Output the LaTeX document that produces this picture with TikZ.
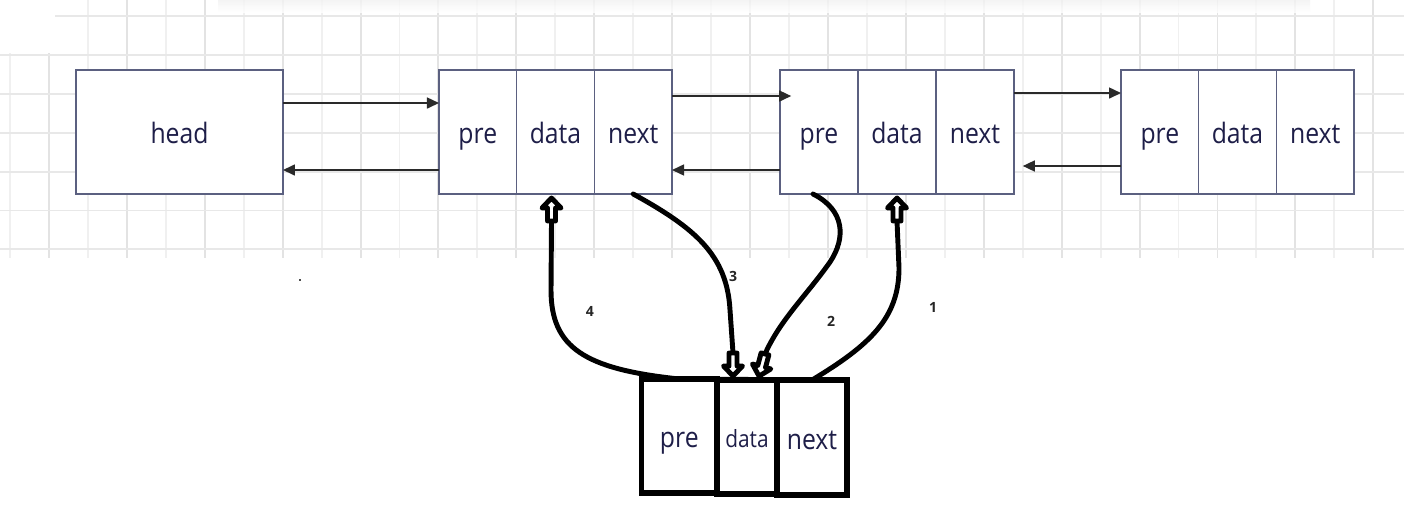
\documentclass[tikz,border=0pt]{standalone}
\usepackage{fontspec}
\setmainfont{Open Sans}
\newfontfamily\cellfont[FakeStretch=0.88]{Open Sans}
\usetikzlibrary{arrows.meta}

\definecolor{boxline}{HTML}{5B6080}
\definecolor{txt}{HTML}{1E1E48}
\definecolor{link}{HTML}{2A2A2A}

\begin{document}
\begin{tikzpicture}[x=0.02cm,y=-0.02cm,
  cell/.style={draw=boxline, line width=0.9pt, fill=white,
    minimum width=1.553cm, minimum height=2.48cm,
    inner sep=0pt, outer sep=0pt, text=txt,
    text height=14pt, text depth=0.4pt,
    font=\cellfont\fontsize{16}{18}\selectfont},
  newcell/.style={draw=black, line width=2.9pt, fill=white,
    minimum height=2.28cm, inner sep=0pt, outer sep=0pt, text=txt,
    text height=14pt, text depth=0.4pt,
    font=\cellfont\fontsize{16}{18}\selectfont},
  link/.style={draw=link, line width=0.9pt,
    -{Triangle[length=0.24cm,width=0.22cm]}},
  curvelink/.style={draw=black, line width=2.8pt, line cap=round},
  num/.style={font=\bfseries\fontsize{8}{9}\selectfont, text=black!85, inner sep=0pt},
  blk/.pic={\draw[black, line width=2.8pt, fill=white, line join=round]
    (0,4) -- (9.5,14) -- (4,14) -- (4,27) -- (-4,27) -- (-4,14) -- (-9.5,14) -- cycle;}
]
\useasboundingbox (0,0) rectangle (1408,529);
\fill[white] (0,0) rectangle (1408,529);

% background grid of the drawing canvas
\foreach \k in {0,...,36}{
  \pgfmathsetmacro\gx{10+38.95*\k}
  \pgfmathsetmacro\gy{(\k<2)?53:0}
  \pgfmathsetmacro\gs{(mod(\k,2)==1)?11:6}
  \draw[black!\gs, line width=1.1pt] (\gx,\gy) -- (\gx,258);
}
\foreach \j in {0,...,6}{
  \pgfmathsetmacro\hy{16+38.9*\j}
  \pgfmathsetmacro\hx{(\j==0)?55:0}
  \draw[black!9, line width=1.1pt] (\hx,\hy) -- (1404,\hy);
}
\shade[top color=black!5, bottom color=white, opacity=0.8] (218,0) rectangle (1310,12);

% head and the existing list nodes
\node[cell, minimum width=4.14cm] (head) at (179.5,132) {head};

\node[cell] (n1p) at (477.8,132) {pre};
\node[cell] (n1d) at (555.5,132) {data};
\node[cell] (n1n) at (633.2,132) {next};

\node[cell] (n2p) at (819,132) {pre};
\node[cell] (n2d) at (897,132) {data};
\node[cell] (n2n) at (975,132) {next};

\node[cell] (n3p) at (1159.8,132) {pre};
\node[cell] (n3d) at (1237.5,132) {data};
\node[cell] (n3n) at (1315.2,132) {next};

% links between neighbouring nodes
\draw[link] ([yshift=0.58cm]head.east) -- ([yshift=0.58cm]n1p.west);
\draw[link] ([yshift=-0.76cm]n1p.west) -- ([yshift=-0.76cm]head.east);
\draw[link] ([yshift=0.72cm]n1n.east) -- ([xshift=0.22cm,yshift=0.72cm]n2p.west);
\draw[link] ([yshift=-0.76cm]n2p.west) -- ([yshift=-0.76cm]n1n.east);
\draw[link] ([yshift=0.78cm]n2n.east) -- ([yshift=0.78cm]n3p.west);
\draw[link] ([yshift=-0.68cm]n3p.west) -- ([xshift=0.18cm,yshift=-0.68cm]n2n.east);

% the node being inserted
\node[newcell, minimum width=1.51cm] (bp) at (679.3,436) {pre};
\node[newcell, minimum width=1.2cm, text height=12pt, text depth=0pt,
  font=\cellfont\fontsize{13.5}{15}\selectfont] (bd) at (747,437) {data};
\node[newcell, minimum width=1.4cm, minimum height=2.3cm] (bn) at (812,437.5) {next};

% tips of the four insertion steps
\coordinate (t4) at ([xshift=-0.08cm]n1d.south);
\coordinate (t1) at (n2d.south);
\coordinate (t3) at ([xshift=-0.28cm]bd.north);
\coordinate (t2) at ([xshift=0.22cm]bd.north);

% step 1: new.next -> next node's data
\draw[curvelink] (bn.north) .. controls (870,345) and (899,318) .. (899,268) -- ([yshift=-0.54cm]t1);
% step 2: next node's pre -> new data
\draw[curvelink] ([xshift=-0.12cm]n2p.south) .. controls (845,210) and (846,238) .. (830,262)
  .. controls (806,296) and (780,320) .. ([xshift=0.14cm,yshift=0.52cm]t2);
% step 3: previous node's next -> new data
\draw[curvelink] (n1n.south) .. controls (695,228) and (727,255) .. (730,310) -- ([yshift=0.54cm]t3);
% step 4: new.pre -> previous node's data
\draw[curvelink] (bp.north) .. controls (585,369) and (551,348) .. (551,290) -- ([yshift=-0.54cm]t4);

\pic at (t4) {blk};
\pic at (t1) {blk};
\pic[rotate=180] at (t3) {blk};
\pic[rotate=165] at (t2) {blk};

% redraw the new node's top edge over the curve ends
\draw[black, line width=2.9pt] (bp.north west) -- (bn.north east);

\node[num] (l4) at (590,311) {4};
\node[num] (l3) at (733,276) {3};
\node[num] (l2) at (831,321) {2};
\node[num] (l1) at (933,307) {1};

\fill[black!70] (299,279) rectangle (301,281);
\end{tikzpicture}
\end{document}
